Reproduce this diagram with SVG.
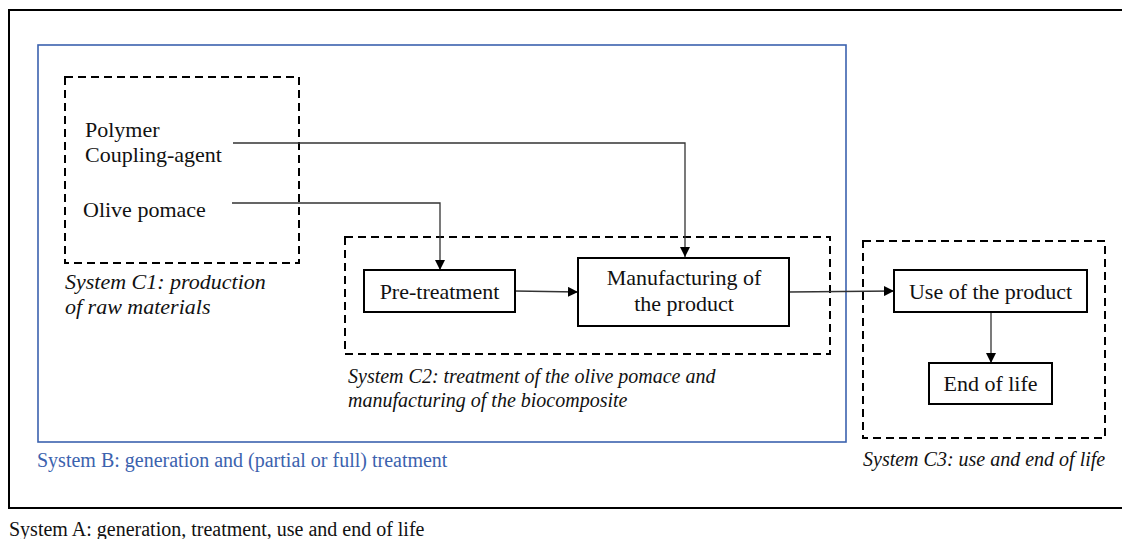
<svg xmlns="http://www.w3.org/2000/svg" width="1122" height="539" viewBox="0 0 1122 539">
<defs>
<marker id="ah" viewBox="0 0 10 10" refX="10" refY="5" markerWidth="10" markerHeight="10" markerUnits="userSpaceOnUse" orient="auto">
<path d="M0,0 L10,5 L0,10 Z" fill="#000"/>
</marker>
<style>
text{font-family:'Liberation Serif',Tinos,'Times New Roman','DejaVu Serif',serif;font-size:20px;fill:#111}
.big{font-size:22px}
.it{font-style:italic}
.blue{fill:#3B62AE}
.box{fill:#fff;stroke:#000;stroke-width:2}
.dash{fill:none;stroke:#000;stroke-width:2;stroke-dasharray:8 5}
.conn{fill:none;stroke:#333;stroke-width:1.3}
</style>
</defs>
<rect width="1122" height="539" fill="#fff"/>
<g id="systemA">
<rect x="9" y="10" width="1125" height="498" fill="none" stroke="#000" stroke-width="2"/>
<text x="9" y="536">System A: generation, treatment, use and end of life</text>
</g>
<g id="systemB">
<rect x="38" y="45" width="808" height="397" fill="none" stroke="#3B62AE" stroke-width="1.6"/>
<text class="blue" x="37" y="467">System B: generation and (partial or full) treatment</text>
</g>
<g id="systemC1">
<rect class="dash" x="65" y="77" width="234" height="186"/>
<text class="big" x="85" y="137">Polymer</text>
<text class="big" x="85" y="162">Coupling-agent</text>
<text class="big" x="83" y="217">Olive pomace</text>
<text class="it big" x="65" y="289">System C1: production</text>
<text class="it big" x="65" y="314">of raw materials</text>
</g>
<g id="systemC2">
<rect class="dash" x="345" y="237" width="485" height="117"/>
<text class="it" x="348" y="383">System C2: treatment of the olive pomace and</text>
<text class="it" x="348" y="407">manufacturing of the biocomposite</text>
</g>
<g id="systemC3">
<rect class="dash" x="863" y="241" width="242" height="197"/>
<text class="it" x="863" y="466">System C3: use and end of life</text>
</g>
<g id="connectors">
<polyline class="conn" points="233,143 685,143 685,257" marker-end="url(#ah)"/>
<polyline class="conn" points="232,203 440,203 440,270" marker-end="url(#ah)"/>
<line class="conn" x1="515" y1="291" x2="578" y2="292" marker-end="url(#ah)"/>
<line class="conn" x1="789" y1="292" x2="894" y2="291" marker-end="url(#ah)"/>
<line class="conn" x1="991" y1="312" x2="991" y2="363" marker-end="url(#ah)"/>
</g>
<g id="pretreatment">
<rect class="box" x="364" y="270" width="151" height="42"/>
<text class="big" x="439.5" y="299" text-anchor="middle">Pre-treatment</text>
</g>
<g id="manufacturing">
<rect class="box" x="578" y="258" width="211" height="68"/>
<text class="big" x="684" y="285" text-anchor="middle">Manufacturing of</text>
<text class="big" x="684" y="311" text-anchor="middle">the product</text>
</g>
<g id="use">
<rect class="box" x="894" y="270" width="193" height="42"/>
<text class="big" x="990.5" y="299" text-anchor="middle">Use of the product</text>
</g>
<g id="endoflife">
<rect class="box" x="929" y="363" width="123" height="41"/>
<text class="big" x="990.5" y="391" text-anchor="middle">End of life</text>
</g>
</svg>
